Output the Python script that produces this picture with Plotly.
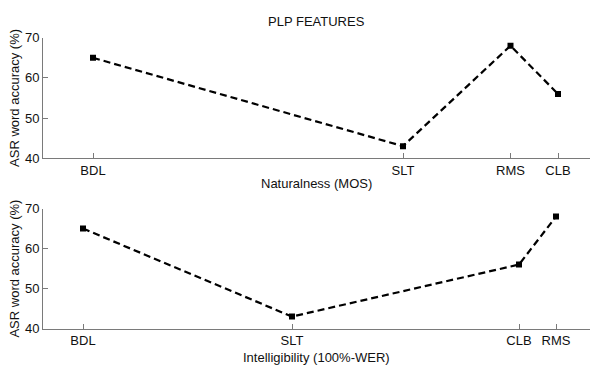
import plotly.graph_objects as go
from plotly.subplots import make_subplots

# Naturalness (MOS) per speaker
nat_speakers = ["BDL", "SLT", "RMS", "CLB"]
nat_mos = [2.00, 3.24, 3.67, 3.86]
nat_acc = [65, 43, 68, 56]

# Intelligibility (100% - WER) per speaker
int_speakers = ["BDL", "SLT", "CLB", "RMS"]
int_score = [70.0, 80.45, 91.8, 93.65]
int_acc = [65, 43, 56, 68]

W, H = 590, 374
AXIS_GRAY = "#7a7a7a"
FONT = "Liberation Sans, Arial, sans-serif"
TXT = "#111"

fig = make_subplots(rows=2, cols=1)

line_style = dict(color="black", width=2.2, dash="7px,4px")
marker_style = dict(symbol="square", size=6, color="black")

fig.add_trace(go.Scatter(x=nat_mos, y=nat_acc, mode="lines+markers",
                         line=line_style, marker=marker_style,
                         showlegend=False), row=1, col=1)
fig.add_trace(go.Scatter(x=int_score, y=int_acc, mode="lines+markers",
                         line=line_style, marker=marker_style,
                         showlegend=False), row=2, col=1)

common_x = dict(showgrid=False, zeroline=False, showline=True,
                linecolor=AXIS_GRAY, linewidth=1, ticks="inside",
                ticklen=5, tickcolor=AXIS_GRAY, tickwidth=1,
                tickfont=dict(family=FONT, size=13, color=TXT),
                domain=[0, 1])
common_y = dict(showgrid=False, zeroline=False, showline=True,
                linecolor=AXIS_GRAY, linewidth=1, ticks="inside",
                ticklen=5, tickcolor=AXIS_GRAY, tickwidth=1,
                tickfont=dict(family=FONT, size=13, color=TXT),
                range=[40, 70], tickvals=[40, 50, 60, 70],
                title=dict(text="ASR word accuracy (%)",
                           font=dict(family=FONT, size=13, color=TXT),
                           standoff=2))

fig.update_layout(
    xaxis=dict(common_x, range=[1.8, 3.988], tickvals=nat_mos,
               ticktext=nat_speakers),
    xaxis2=dict(common_x, range=[68, 95.35], tickvals=int_score,
                ticktext=int_speakers),
    yaxis=dict(common_y, domain=[1 - 157.5 / H, 1 - 32 / H]),
    yaxis2=dict(common_y, domain=[1 - 335 / H, 1 - 210 / H]),
    width=W, height=H,
    margin=dict(l=43, r=0, t=0, b=0),
    paper_bgcolor="white", plot_bgcolor="white",
    font=dict(family=FONT, size=13, color=TXT),
)

annot_font = dict(family=FONT, size=13, color=TXT)
fig.add_annotation(text="PLP FEATURES", xref="paper", yref="paper",
                   x=0.5, y=1 - 15 / H, showarrow=False, font=annot_font,
                   xanchor="center", yanchor="middle")
fig.add_annotation(text="Naturalness (MOS)", xref="paper", yref="paper",
                   x=0.5, y=1 - 184 / H, showarrow=False, font=annot_font,
                   xanchor="center", yanchor="middle")
fig.add_annotation(text="Intelligibility (100%-WER)", xref="paper", yref="paper",
                   x=0.5, y=1 - 365 / H, showarrow=False, font=annot_font,
                   xanchor="center", yanchor="middle")

fig.write_html("out.html")
